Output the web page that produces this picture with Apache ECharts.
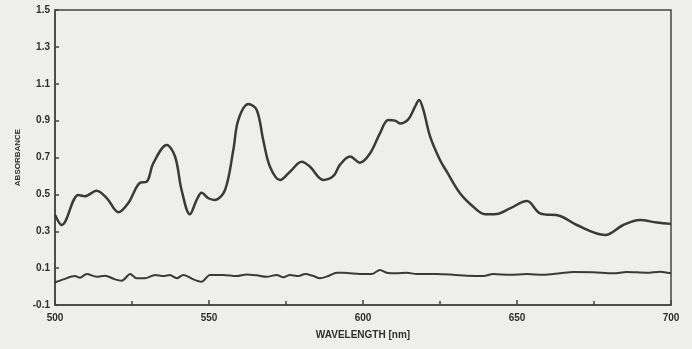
<!DOCTYPE html>
<html>
<head>
<meta charset="utf-8">
<script src="https://cdn.jsdelivr.net/npm/echarts@6/dist/echarts.min.js"></script>
<style>
  html, body { margin: 0; padding: 0; background: #eeeeea; }
  #chart { width: 692px; height: 349px; }
</style>
</head>
<body>
<div id="chart"></div>
<script>
// Sample spectrum (upper trace)
const sampleWavelengths = [
  500.0, 502.2, 507.6, 509.7, 513.5, 516.8, 520.6, 523.8, 527.6, 529.8,
  531.9, 536.3, 539.0, 541.1, 543.8, 546.0, 547.6, 549.8, 551.9, 555.2,
  557.9, 559.5, 562.8, 565.5, 567.6, 569.8, 573.1, 576.3, 580.1, 582.8,
  587.1, 590.4, 592.5, 595.8, 599.0, 602.3, 605.5, 608.2, 610.4, 612.0,
  614.7, 616.9, 618.2, 619.6, 621.8, 625.0, 627.2, 631.5, 635.8, 639.6,
  643.4, 647.7, 653.2, 657.5, 664.0, 669.4, 678.6, 684.5, 689.9, 695.4,
  700.0
];
const sampleAbsorbance = [
  0.39, 0.334, 0.497, 0.49, 0.52, 0.48, 0.403, 0.453, 0.563, 0.569,
  0.668, 0.768, 0.704, 0.524, 0.392, 0.47, 0.509, 0.479, 0.47, 0.524,
  0.741, 0.903, 0.99, 0.958, 0.795, 0.65, 0.578, 0.623, 0.677, 0.65,
  0.578, 0.6, 0.66, 0.705, 0.672, 0.723, 0.831, 0.903, 0.9, 0.885,
  0.907, 0.976, 1.012, 0.958, 0.813, 0.686, 0.623, 0.506, 0.433, 0.392,
  0.394, 0.424, 0.464, 0.397, 0.383, 0.334, 0.28, 0.334, 0.361, 0.347,
  0.34
];

// Baseline (lower trace)
const baseWavelengths = [
  500.0, 502.7, 506.5, 508.1, 510.3, 513.5, 516.2, 519.5, 521.7, 524.4,
  526.5, 529.2, 532.5, 535.2, 537.3, 539.5, 541.7, 544.9, 547.6, 550.3,
  554.6, 559.0, 562.2, 565.5, 568.7, 572.0, 574.1, 576.3, 579.0, 581.2,
  583.9, 586.0, 588.7, 591.5, 593.6, 595.8, 599.0, 602.8, 605.5, 607.7,
  610.9, 614.2, 617.4, 623.9, 629.3, 633.7, 639.1, 642.3, 647.7, 653.2,
  658.5, 664.0, 668.3, 674.8, 681.3, 685.6, 692.1, 696.4, 700.0
];
const baseAbsorbance = [
  0.022, 0.039, 0.057, 0.048, 0.068, 0.053, 0.059, 0.039, 0.032, 0.068,
  0.045, 0.045, 0.063, 0.057, 0.063, 0.045, 0.063, 0.039, 0.026, 0.063,
  0.063, 0.057, 0.066, 0.061, 0.053, 0.063, 0.05, 0.063, 0.057, 0.068,
  0.057, 0.045, 0.057, 0.075, 0.075, 0.072, 0.068, 0.068, 0.09, 0.075,
  0.072, 0.075, 0.068, 0.068, 0.064, 0.059, 0.057, 0.068, 0.064, 0.068,
  0.064, 0.072, 0.079, 0.077, 0.072, 0.079, 0.075, 0.081, 0.072
];

const xTicks = { min: 500, max: 700, step: 50 };
const yTicks = { min: -0.1, max: 1.5, step: 0.2 };

const inkColor = "#2e2e2e";
const fontFamily = "'Liberation Sans Narrow', 'Liberation Sans', Arial, sans-serif";

const zip = (xs, ys) => xs.map((x, i) => [x, ys[i]]);

const chart = echarts.init(document.getElementById("chart"));

chart.setOption({
  backgroundColor: "#eeeeea",
  animation: false,
  grid: {
    left: 55,
    right: 21,
    top: 10,
    bottom: 44,
    show: true,
    borderColor: "#444",
    borderWidth: 1.5,
    backgroundColor: "transparent",
  },
  xAxis: {
    type: "value",
    min: xTicks.min,
    max: xTicks.max,
    interval: xTicks.step,
    name: "WAVELENGTH [nm]",
    nameLocation: "middle",
    nameGap: 25,
    nameTextStyle: { color: inkColor, fontSize: 10, fontWeight: "bold", fontFamily },
    axisLine: { show: true, onZero: false, lineStyle: { color: "#444", width: 1.5 } },
    axisTick: { show: true, inside: true, length: 5, lineStyle: { color: "#444", width: 1.5 } },
    minorTick: { show: true, splitNumber: 2, length: 4, lineStyle: { color: "#444", width: 1.5 } },
    axisLabel: { color: inkColor, fontSize: 10, fontWeight: "bold", fontFamily, margin: 8 },
    splitLine: { show: false },
  },
  yAxis: {
    type: "value",
    min: yTicks.min,
    max: yTicks.max,
    interval: yTicks.step,
    name: "ABSORBANCE",
    nameLocation: "middle",
    nameGap: 32,
    nameRotate: 90,
    nameTextStyle: { color: inkColor, fontSize: 8, fontWeight: "bold", fontFamily },
    axisLine: { show: true, onZero: false, lineStyle: { color: "#444", width: 1.5 } },
    axisTick: { show: true, inside: true, length: 4, lineStyle: { color: "#444", width: 1.5 } },
    axisLabel: {
      color: inkColor,
      fontSize: 10,
      fontWeight: "bold",
      fontFamily,
      margin: 5,
      formatter: (v) => v.toFixed(1),
    },
    splitLine: { show: false },
  },
  series: [
    {
      name: "sample",
      type: "line",
      data: zip(sampleWavelengths, sampleAbsorbance),
      smooth: 0.35,
      showSymbol: false,
      lineStyle: { color: "#3a3a3a", width: 2.5 },
    },
    {
      name: "baseline",
      type: "line",
      data: zip(baseWavelengths, baseAbsorbance),
      smooth: 0.3,
      showSymbol: false,
      lineStyle: { color: "#3a3a3a", width: 2 },
    },
  ],
});
</script>
</body>
</html>
